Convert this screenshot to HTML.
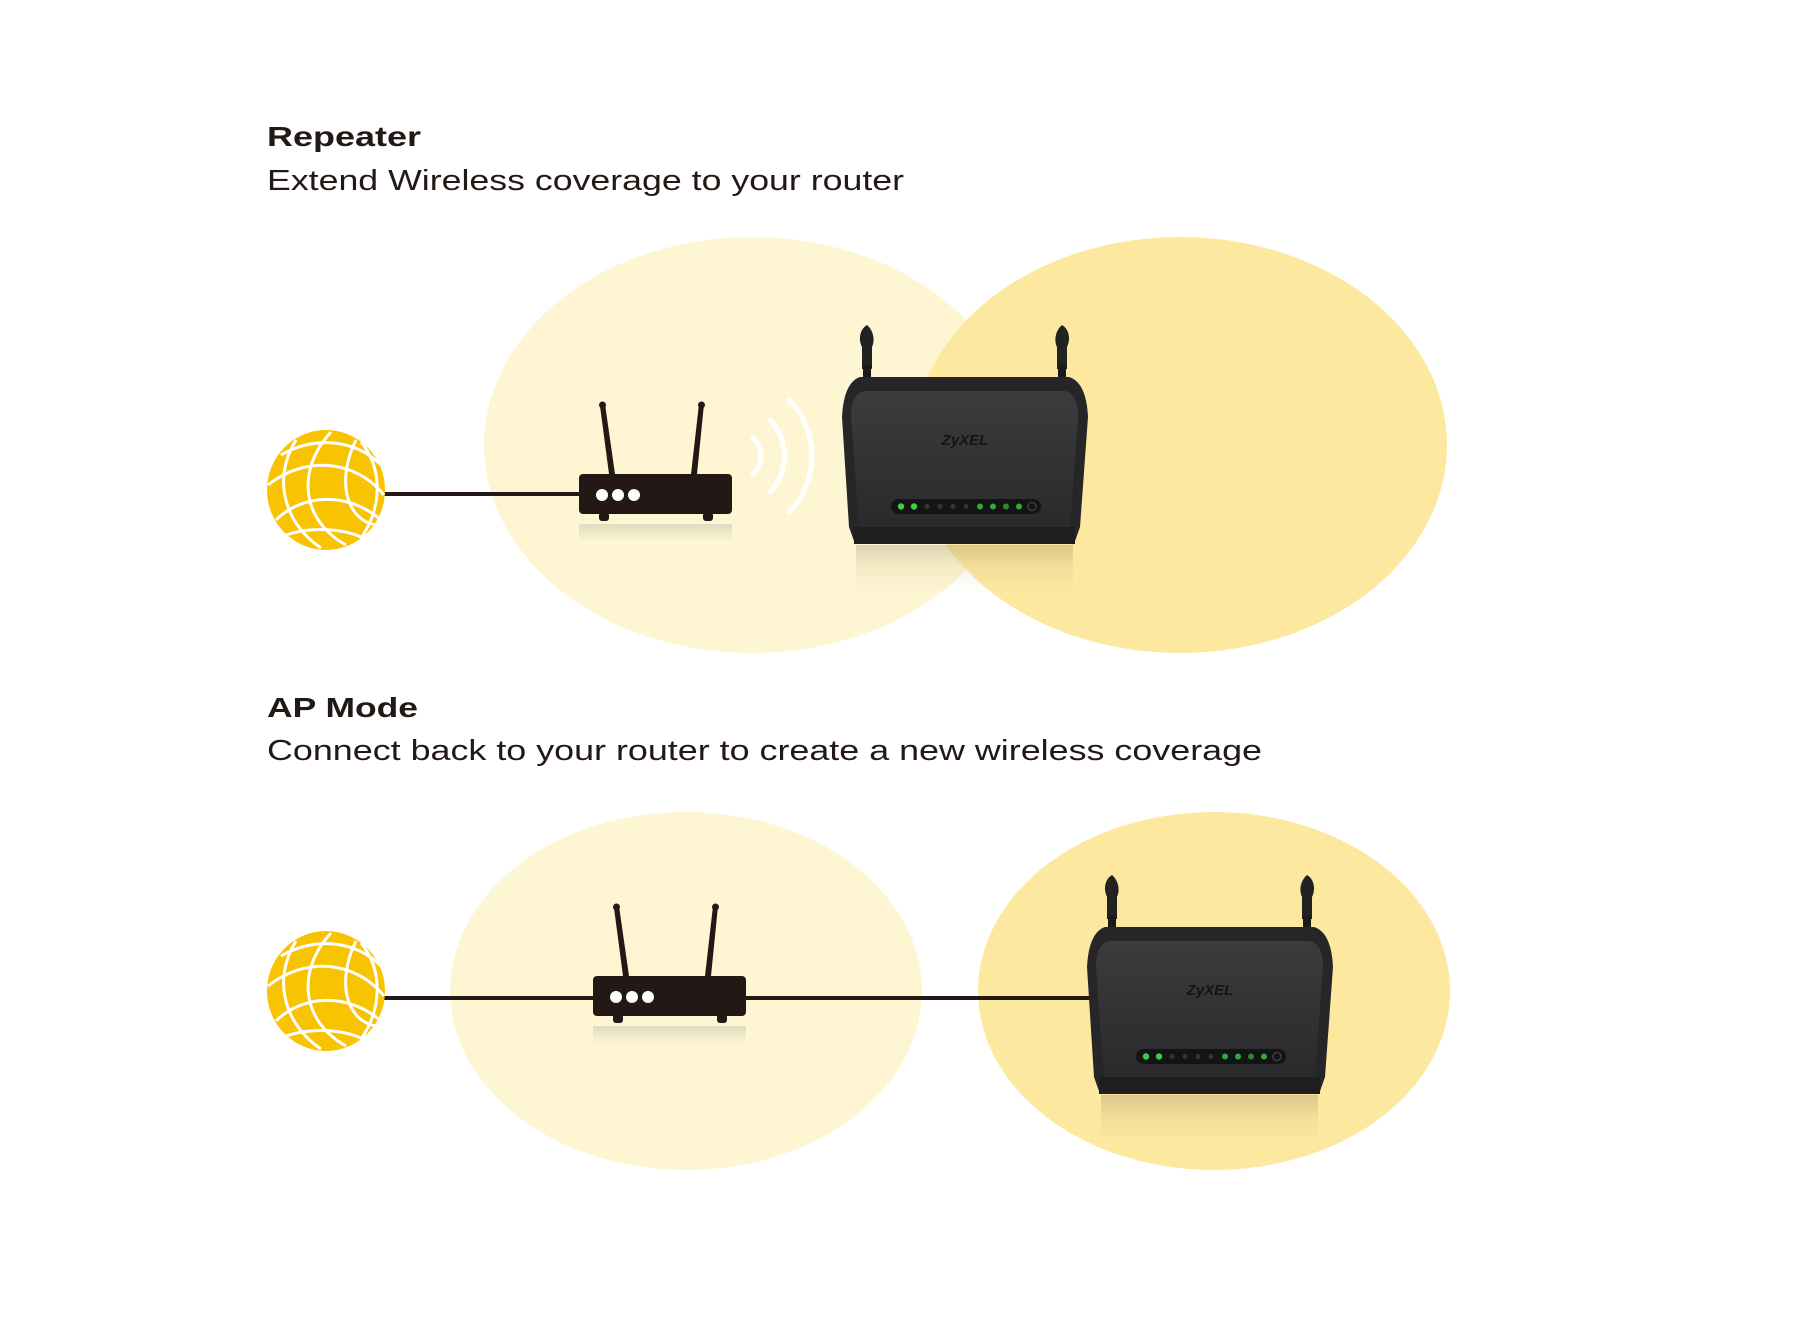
<!DOCTYPE html>
<html><head><meta charset="utf-8"><style>
html,body{margin:0;padding:0;background:#fff;}
svg{display:block;}
text{font-family:"Liberation Sans",sans-serif;fill:#231815;}
</style></head><body>
<svg width="1800" height="1330" viewBox="0 0 1800 1330" xmlns="http://www.w3.org/2000/svg">
<defs>
  <linearGradient id="refl" x1="0" y1="0" x2="0" y2="1">
    <stop offset="0" stop-color="#5a5040" stop-opacity="0.22"/>
    <stop offset="0.5" stop-color="#8a7a50" stop-opacity="0.08"/>
    <stop offset="1" stop-color="#8a7a50" stop-opacity="0"/>
  </linearGradient>
  <linearGradient id="refl2" x1="0" y1="0" x2="0" y2="1">
    <stop offset="0" stop-color="#999" stop-opacity="0.3"/>
    <stop offset="1" stop-color="#999" stop-opacity="0"/>
  </linearGradient>
  <linearGradient id="face" x1="0" y1="0" x2="0" y2="1">
    <stop offset="0" stop-color="#3c3c3e"/>
    <stop offset="1" stop-color="#2a2a2c"/>
  </linearGradient>
  <g id="zyxel">
    <path d="M20,-8 L20,-30 C16,-38 18,-48 25,-52 C32,-46 33,-36 30,-30 L30,-8 Z" fill="#222"/>
    <rect x="21" y="-12" width="8" height="14" fill="#1a1a1a"/>
    <path d="M215,-8 L215,-30 C212,-36 213,-46 220,-52 C227,-48 229,-38 225,-30 L225,-8 Z" fill="#222"/>
    <rect x="216" y="-12" width="8" height="14" fill="#1a1a1a"/>
    <path d="M18,0 L227,0 C240,4 245,20 246,40 L238,150 L232,167 L13,167 L7,150 L0,40 C1,20 6,4 18,0 Z" fill="#262628"/>
    <path d="M22,14 L223,14 C232,16 236,26 236,40 L228,150 L17,150 L9,40 C9,26 13,16 22,14 Z" fill="url(#face)"/>
    <rect x="12" y="150" width="221" height="17" fill="#1e1e20"/>
    <text x="123" y="68" text-anchor="middle" font-size="15" font-weight="bold" font-style="italic" style="fill:#141414">ZyXEL</text>
    <rect x="49" y="122" width="150" height="15" rx="7.5" fill="#141414"/>
    <circle cx="59" cy="129.5" r="3.2" fill="#3ccf4a"/>
    <circle cx="72" cy="129.5" r="3.2" fill="#3ccf4a"/>
    <circle cx="85" cy="129.5" r="2.6" fill="#333"/>
    <circle cx="98" cy="129.5" r="2.6" fill="#333"/>
    <circle cx="111" cy="129.5" r="2.6" fill="#333"/>
    <circle cx="124" cy="129.5" r="2.6" fill="#333"/>
    <circle cx="138" cy="129.5" r="3" fill="#2faa3c"/>
    <circle cx="151" cy="129.5" r="3" fill="#2faa3c"/>
    <circle cx="164" cy="129.5" r="3" fill="#2a8a34"/>
    <circle cx="177" cy="129.5" r="3" fill="#2faa3c"/>
    <circle cx="190" cy="129.5" r="4" fill="none" stroke="#444" stroke-width="1.3"/>
    <rect x="14" y="168" width="217" height="48" fill="url(#refl)"/>
  </g>
  <g id="small">
    <path d="M26,-70 L36,0 L30,0 L21,-68 Z" fill="#231815"/>
    <circle cx="23.5" cy="-69" r="3.5" fill="#231815"/>
    <path d="M125,-70 L118,0 L112,0 L120,-70 Z" fill="#231815"/>
    <circle cx="122.5" cy="-69" r="3.5" fill="#231815"/>
    <rect x="0" y="0" width="153" height="40" rx="4" fill="#231815"/>
    <circle cx="23" cy="21" r="6" fill="#fff"/>
    <circle cx="39" cy="21" r="6" fill="#fff"/>
    <circle cx="55" cy="21" r="6" fill="#fff"/>
    <rect x="20" y="38" width="10" height="9" rx="3" fill="#231815"/>
    <rect x="124" y="38" width="10" height="9" rx="3" fill="#231815"/>
    <rect x="0" y="50" width="153" height="18" fill="url(#refl2)"/>
  </g>
  <g id="globe">
    <ellipse cx="0" cy="0" rx="59" ry="60" fill="#f8c300"/>
    <g fill="none" stroke="#fff" stroke-width="3">
      <path d="M-45,-35 C-10,-55 30,-50 55,-25"/>
      <path d="M-58,-5 C-20,-35 30,-30 58,5"/>
      <path d="M-50,30 C-25,5 20,0 55,30"/>
      <path d="M-30,-50 C-55,-10 -40,35 -5,58"/>
      <path d="M5,-58 C-30,-20 -25,30 20,55"/>
      <path d="M30,-50 C10,-10 20,30 50,35"/>
      <path d="M-40,45 C-10,35 25,40 40,50"/>
      <path d="M35,-48 C58,-20 55,20 35,48"/>
    </g>
  </g>
</defs>

<text x="267" y="146" font-size="28" font-weight="bold" textLength="154" lengthAdjust="spacingAndGlyphs">Repeater</text>
<text x="267" y="190" font-size="29" textLength="637" lengthAdjust="spacingAndGlyphs">Extend Wireless coverage to your router</text>

<ellipse cx="752" cy="445" rx="268" ry="208" fill="#fef6d2"/>
<ellipse cx="1180" cy="445" rx="267" ry="208" fill="#fde8a0"/>

<line x1="380" y1="494" x2="582" y2="494" stroke="#231815" stroke-width="4"/>
<use href="#globe" x="326" y="490"/>
<use href="#small" x="579" y="474"/>

<g fill="none" stroke="#fff" stroke-width="5" stroke-linecap="round">
  <path d="M753,438 A25,25 0 0 1 753,474"/>
  <path d="M770,420 A52,52 0 0 1 770,492"/>
  <path d="M789,400 A80,80 0 0 1 789,512"/>
</g>

<use href="#zyxel" x="842" y="377"/>

<text x="267" y="717" font-size="28" font-weight="bold" textLength="151" lengthAdjust="spacingAndGlyphs">AP Mode</text>
<text x="267" y="760" font-size="29" textLength="995" lengthAdjust="spacingAndGlyphs">Connect back to your router to create a new wireless coverage</text>

<ellipse cx="686" cy="991" rx="236" ry="179" fill="#fef6d2"/>
<ellipse cx="1214" cy="991" rx="236" ry="179" fill="#fde8a0"/>

<line x1="380" y1="998" x2="1095" y2="998" stroke="#231815" stroke-width="4"/>
<use href="#globe" x="326" y="991"/>
<use href="#small" x="593" y="976"/>
<use href="#zyxel" x="1087" y="927"/>
</svg>
</body></html>
